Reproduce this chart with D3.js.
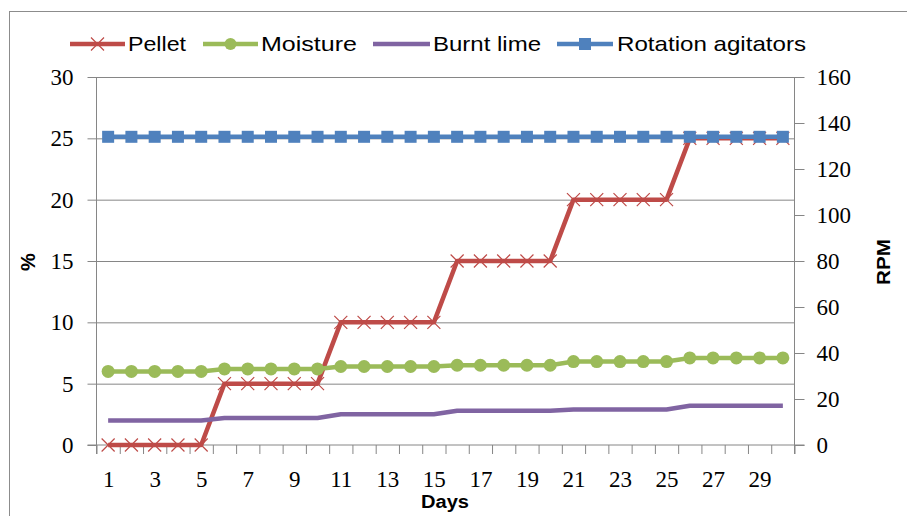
<!DOCTYPE html>
<html>
<head>
<meta charset="utf-8">
<script src="https://cdn.jsdelivr.net/npm/d3@7"></script>
<style>
  html, body { margin: 0; padding: 0; background: #fff; }
  svg { display: block; }
</style>
</head>
<body>
<svg id="chart" width="907" height="516"></svg>
<script>
// ---- data ----
const days = d3.range(1, 31);
const pellet = [0,0,0,0,0, 5,5,5,5,5, 10,10,10,10,10, 15,15,15,15,15, 20,20,20,20,20, 25,25,25,25,25];
const moisture = [6.0,6.0,6.0,6.0,6.0, 6.2,6.2,6.2,6.2,6.2, 6.4,6.4,6.4,6.4,6.4, 6.5,6.5,6.5,6.5,6.5, 6.8,6.8,6.8,6.8,6.8, 7.1,7.1,7.1,7.1,7.1];
const burntLime = [2.0,2.0,2.0,2.0,2.0, 2.2,2.2,2.2,2.2,2.2, 2.5,2.5,2.5,2.5,2.5, 2.8,2.8,2.8,2.8,2.8, 2.9,2.9,2.9,2.9,2.9, 3.2,3.2,3.2,3.2,3.2];
const rotation = [134,134,134,134,134, 134,134,134,134,134, 134,134,134,134,134, 134,134,134,134,134, 134,134,134,134,134, 134,134,134,134,134];
const leftTicks = [0, 5, 10, 15, 20, 25, 30];
const rightTicks = [0, 20, 40, 60, 80, 100, 120, 140, 160];
const dayLabels = days.filter(d => d % 2 === 1);
const seriesNames = ["Pellet", "Moisture", "Burnt lime", "Rotation agitators"];
const colors = { pellet: "#BE4B48", moisture: "#9BBB59", lime: "#8064A2", rot: "#4F81BD" };

// ---- layout ----
const L = 96.5, R = 794.5, T = 77, B = 445;
const svg = d3.select("#chart");
const numFont = "'Liberation Serif', 'DejaVu Serif', serif";
const sansFont = "'Liberation Sans', Arial, sans-serif";
const axisCol = "#868686";

// frame
svg.append("rect").attr("x", 9.5).attr("y", 11.5).attr("width", 1000).attr("height", 600)
  .attr("fill", "none").attr("stroke", "#8c8c8c").attr("stroke-width", 1);

const x = d3.scalePoint().domain(days).range([L, R]).padding(0.5);
const xb = d3.scaleLinear().domain([0, 30]).range([L, R]);
const yL = d3.scaleLinear().domain([0, 30]).range([B, T]);
const yR = d3.scaleLinear().domain([0, 160]).range([B, T]);

// gridlines
svg.append("g").attr("transform", `translate(${L},0)`)
  .call(d3.axisRight(yL).tickValues(leftTicks.filter(v => v > 0)).tickSize(R - L).tickFormat(""))
  .call(g => g.select(".domain").remove())
  .call(g => g.selectAll("line").attr("stroke", axisCol));

// left axis
const gl = svg.append("g").attr("transform", `translate(${L},0)`)
  .call(d3.axisLeft(yL).tickValues(leftTicks).tickSize(9).tickSizeOuter(0).tickPadding(14));
gl.select(".domain").attr("stroke", axisCol).attr("d", `M0,${T}V${B + 9}`);
gl.selectAll("line").attr("stroke", axisCol);
gl.selectAll("text").attr("font-family", numFont).attr("font-size", 23).attr("fill", "#000");

// right axis
const gr = svg.append("g").attr("transform", `translate(${R},0)`)
  .call(d3.axisRight(yR).tickValues(rightTicks).tickSize(10).tickSizeOuter(0).tickPadding(12));
gr.select(".domain").attr("stroke", axisCol).attr("d", `M0,${T}V${B + 9}`);
gr.selectAll("line").attr("stroke", axisCol);
gr.selectAll("text").attr("font-family", numFont).attr("font-size", 23).attr("fill", "#000");

// bottom axis: tick marks at category boundaries
const gb = svg.append("g").attr("transform", `translate(0,${B})`)
  .call(d3.axisBottom(xb).tickValues(d3.range(0, 31)).tickSize(9).tickSizeOuter(0).tickFormat(""));
gb.select(".domain").attr("stroke", axisCol).attr("d", `M${L - 9},0H${R + 10}`);
gb.selectAll("line").attr("stroke", axisCol);

// bottom labels
const gbl = svg.append("g").attr("transform", `translate(0,${B})`)
  .call(d3.axisBottom(x).tickValues(dayLabels).tickSize(0).tickPadding(26));
gbl.select(".domain").remove();
gbl.selectAll("text").attr("font-family", numFont).attr("font-size", 23).attr("fill", "#000");

// axis titles
svg.append("text").attr("transform", "translate(35,262) rotate(-90)")
  .attr("text-anchor", "middle").attr("font-family", sansFont).attr("font-weight", "bold")
  .attr("font-size", 20).text("%");
svg.append("text").attr("transform", "translate(890,262) rotate(-90)")
  .attr("text-anchor", "middle").attr("font-family", sansFont).attr("font-weight", "bold")
  .attr("font-size", 19).attr("textLength", 46).attr("lengthAdjust", "spacingAndGlyphs").text("RPM");
svg.append("text").attr("x", 445).attr("y", 508)
  .attr("text-anchor", "middle").attr("font-family", sansFont).attr("font-weight", "bold")
  .attr("font-size", 18).attr("textLength", 48).attr("lengthAdjust", "spacingAndGlyphs").text("Days");

// lines
const lineL = d3.line().x((d, i) => x(days[i])).y(d => yL(d));
const lineR = d3.line().x((d, i) => x(days[i])).y(d => yR(d));

// Pellet
svg.append("path").datum(pellet).attr("d", lineL).attr("fill", "none")
  .attr("stroke", colors.pellet).attr("stroke-width", 4.5).attr("stroke-linejoin", "round");
const xMark = (g, cx, cy, s) => {
  g.append("path").attr("d", `M${cx - s},${cy - s}L${cx + s},${cy + s}M${cx - s},${cy + s}L${cx + s},${cy - s}`)
    .attr("stroke", colors.pellet).attr("stroke-width", 1.2).attr("fill", "none");
};
const pm = svg.append("g");
pellet.forEach((v, i) => xMark(pm, x(days[i]), yL(v), 6.5));

// Moisture
svg.append("path").datum(moisture).attr("d", lineL).attr("fill", "none")
  .attr("stroke", colors.moisture).attr("stroke-width", 4.5);
svg.append("g").selectAll("circle").data(moisture).join("circle")
  .attr("cx", (d, i) => x(days[i])).attr("cy", d => yL(d)).attr("r", 6.5)
  .attr("fill", colors.moisture);

// Burnt lime
svg.append("path").datum(burntLime).attr("d", lineL).attr("fill", "none")
  .attr("stroke", colors.lime).attr("stroke-width", 4.5).attr("stroke-linejoin", "round");

// Rotation agitators (secondary axis)
svg.append("path").datum(rotation).attr("d", lineR).attr("fill", "none")
  .attr("stroke", colors.rot).attr("stroke-width", 4.5);
svg.append("g").selectAll("rect").data(rotation).join("rect")
  .attr("x", (d, i) => x(days[i]) - 6).attr("y", d => yR(d) - 6)
  .attr("width", 12).attr("height", 12).attr("fill", colors.rot);

// legend
const legY = 44;
const legItems = [
  { name: seriesNames[0], color: colors.pellet, x1: 70, x2: 125, tx: 128, tw: 58, marker: "x" },
  { name: seriesNames[1], color: colors.moisture, x1: 203, x2: 258, tx: 261, tw: 96, marker: "circle" },
  { name: seriesNames[2], color: colors.lime, x1: 373, x2: 430, tx: 433, tw: 108, marker: "none" },
  { name: seriesNames[3], color: colors.rot, x1: 557, x2: 613, tx: 617, tw: 189, marker: "square" }
];
const lg = svg.append("g");
legItems.forEach(it => {
  lg.append("line").attr("x1", it.x1).attr("x2", it.x2).attr("y1", legY).attr("y2", legY)
    .attr("stroke", it.color).attr("stroke-width", 4.5);
  const cx = (it.x1 + it.x2) / 2;
  if (it.marker === "x") xMark(lg, cx, legY, 6.5);
  if (it.marker === "circle") lg.append("circle").attr("cx", cx).attr("cy", legY).attr("r", 6).attr("fill", it.color);
  if (it.marker === "square") lg.append("rect").attr("x", cx - 6).attr("y", legY - 6).attr("width", 12).attr("height", 12).attr("fill", it.color);
  lg.append("text").attr("x", it.tx).attr("y", legY + 7).attr("font-family", sansFont)
    .attr("font-size", 21).attr("textLength", it.tw).attr("lengthAdjust", "spacingAndGlyphs")
    .attr("fill", "#000").text(it.name);
});
</script>
</body>
</html>
